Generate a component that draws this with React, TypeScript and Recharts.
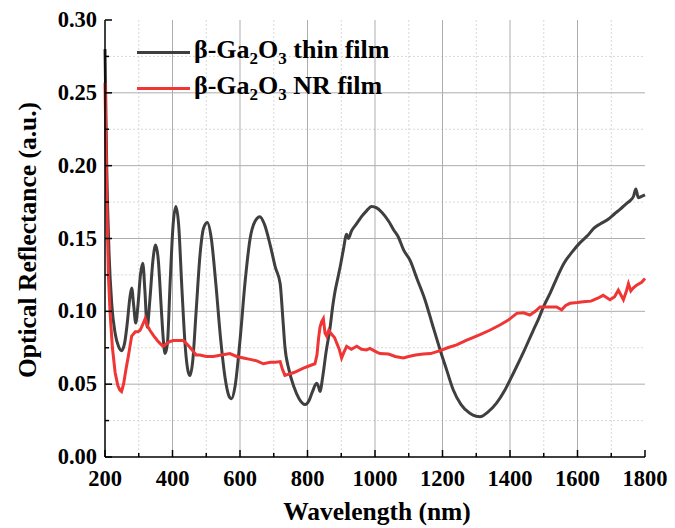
import React from 'react';
import {
  LineChart,
  Line,
  XAxis,
  YAxis,
  CartesianGrid,
  Legend,
} from 'recharts';

// wavelength (nm) and reflectance
const thinFilmNm = [
  200, 205, 212, 220, 230, 240, 249, 258, 266, 273, 279, 285, 291, 298, 305, 312, 318, 325,
  333, 342, 350, 358, 366, 373, 378, 385, 393, 402, 410, 418, 428, 438, 446, 452, 460, 470,
  482, 492, 503, 515, 528, 543, 556, 567, 575, 585, 600, 615, 630, 645, 659, 672, 690, 705,
  719, 727, 733, 745, 760, 775, 793, 805, 815, 827, 833, 837, 845, 855, 867, 875, 881, 890,
  898, 906, 916, 921, 930, 945, 960, 975, 990, 1005, 1020, 1040, 1055, 1069, 1085, 1104,
  1125, 1148, 1170, 1193, 1212, 1232, 1255, 1281, 1300, 1311, 1335, 1360, 1385, 1410, 1440,
  1469, 1485, 1499, 1520, 1538, 1560, 1585, 1607, 1630, 1648, 1667, 1690, 1710, 1726, 1745,
  1756, 1766, 1773, 1780, 1790, 1800,
];
const thinFilmR = [
  0.28, 0.2, 0.14, 0.105, 0.085, 0.076, 0.073, 0.078, 0.092, 0.108, 0.116, 0.104, 0.092,
  0.105, 0.125, 0.133, 0.115, 0.089, 0.108, 0.135, 0.1455, 0.135, 0.105, 0.08, 0.071, 0.078,
  0.12, 0.16, 0.172, 0.16, 0.115, 0.075, 0.059, 0.056, 0.066, 0.1, 0.14, 0.157, 0.161, 0.15,
  0.12, 0.08, 0.054, 0.042, 0.04, 0.048, 0.08, 0.12, 0.15, 0.162, 0.165, 0.16, 0.145, 0.13,
  0.119, 0.095, 0.076, 0.06, 0.048, 0.04, 0.036, 0.039, 0.045, 0.0506, 0.048, 0.045, 0.055,
  0.072, 0.089, 0.104, 0.113, 0.123, 0.132, 0.142, 0.153, 0.15, 0.155, 0.16, 0.165, 0.169,
  0.172, 0.171, 0.168, 0.162, 0.156, 0.151, 0.142, 0.135, 0.122, 0.108, 0.091, 0.0735, 0.06,
  0.046, 0.036, 0.03, 0.028, 0.0277, 0.031, 0.037, 0.046, 0.0575, 0.072, 0.087, 0.095, 0.103,
  0.113, 0.1225, 0.133, 0.141, 0.147, 0.152, 0.157, 0.16, 0.163, 0.167, 0.17, 0.174, 0.176,
  0.179, 0.184, 0.178, 0.179, 0.18,
];

const nrFilmNm = [
  200, 205, 210, 215, 222, 230, 238, 244, 249, 255, 262, 269, 279, 290, 298, 304, 312, 319,
  326, 333, 345, 355, 363, 372, 378, 390, 402, 418, 432, 445, 460, 470, 481, 500, 521, 545,
  570, 590, 610, 630, 650, 669, 690, 705, 719, 726, 733, 760, 788, 810, 822, 828, 833, 837,
  842, 847, 852, 857, 863, 872, 880, 887, 894, 901, 908, 916, 930, 946, 960, 975, 985, 1005,
  1015, 1040, 1060, 1084, 1100, 1120, 1143, 1165, 1193, 1215, 1242, 1270, 1290, 1311, 1340,
  1370, 1395, 1420, 1440, 1459, 1475, 1489, 1510, 1538, 1553, 1565, 1578, 1600, 1617, 1640,
  1660, 1676, 1696, 1710, 1721, 1736, 1745, 1751, 1758, 1765, 1775, 1790, 1800,
];
const nrFilmR = [
  0.257, 0.18, 0.125, 0.099, 0.075, 0.058, 0.049, 0.046, 0.045, 0.05, 0.06, 0.069, 0.083,
  0.086, 0.086, 0.087, 0.091, 0.095, 0.09, 0.087, 0.083, 0.08, 0.078, 0.076, 0.077, 0.079,
  0.08, 0.08, 0.08, 0.077, 0.073, 0.07, 0.07, 0.069, 0.069, 0.07, 0.071, 0.069, 0.068, 0.067,
  0.066, 0.064, 0.065, 0.065, 0.0655, 0.06, 0.056, 0.058, 0.061, 0.063, 0.064, 0.07, 0.082,
  0.089, 0.093, 0.095, 0.085, 0.083, 0.087, 0.084, 0.082, 0.078, 0.074, 0.068, 0.072, 0.076,
  0.074, 0.076, 0.074, 0.0735, 0.0746, 0.072, 0.071, 0.0707, 0.069, 0.068, 0.069, 0.07,
  0.0707, 0.071, 0.073, 0.075, 0.077, 0.08, 0.082, 0.084, 0.087, 0.0906, 0.094, 0.0986,
  0.099, 0.0975, 0.1, 0.103, 0.103, 0.103, 0.101, 0.104, 0.1055, 0.106, 0.1066, 0.107, 0.109,
  0.111, 0.108, 0.11, 0.1146, 0.108, 0.114, 0.119, 0.114, 0.116, 0.118, 0.12, 0.1225,
];

const xTicks = [200, 300, 400, 500, 600, 700, 800, 900, 1000, 1100, 1200, 1300, 1400, 1500, 1600, 1700, 1800];
const yTicks = [0, 0.025, 0.05, 0.075, 0.1, 0.125, 0.15, 0.175, 0.2, 0.225, 0.25, 0.275, 0.3];
const xMajor = [400, 600, 800, 1000, 1200, 1400, 1600];
const xMinor = [300, 500, 700, 900, 1100, 1300, 1500, 1700];
const yMajor = [0.05, 0.1, 0.15, 0.2, 0.25];
const yMinor = [0.025, 0.075, 0.125, 0.175, 0.225, 0.275];

const thinFilm = thinFilmNm.map((nm, i) => ({ nm, r: thinFilmR[i] }));
const nrFilm = nrFilmNm.map((nm, i) => ({ nm, r: nrFilmR[i] }));

const FONT = '"Liberation Serif", "Times New Roman", serif';
const DARK = '#3f3f3f';
const RED = '#f03535';

const XTick = (props: any) => {
  const { x, y, payload } = props;
  const major = payload.value % 200 === 0;
  return (
    <g>
      <line x1={x} x2={x} y1={y} y2={y - (major ? 7 : 4)} stroke="#000" strokeWidth={1.5} />
      {major && (
        <text x={x} y={y + 29} textAnchor="middle" fontFamily={FONT} fontWeight="bold" fontSize={22.5} fill="#000">
          {payload.value}
        </text>
      )}
    </g>
  );
};

const YTick = (props: any) => {
  const { x, y, payload } = props;
  const major = Math.round(payload.value * 1000) % 50 === 0;
  return (
    <g>
      <line x1={x} x2={x + (major ? 7 : 4)} y1={y} y2={y} stroke="#000" strokeWidth={1.5} />
      {major && (
        <text x={x - 8} y={y + 7} textAnchor="end" fontFamily={FONT} fontWeight="bold" fontSize={22.5} fill="#000">
          {payload.value.toFixed(2)}
        </text>
      )}
    </g>
  );
};

const GaLabel = ({ rest }: { rest: string }) => (
  <span>
    β-Ga<sub style={{ fontSize: 17 }}>2</sub>O<sub style={{ fontSize: 17 }}>3</sub> {rest}
  </span>
);

const LegendBox = () => (
  <div style={{ fontFamily: FONT, fontWeight: 'bold', fontSize: 26, color: '#000' }}>
    {[
      { color: DARK, rest: 'thin film' },
      { color: RED, rest: 'NR film' },
    ].map((it) => (
      <div key={it.rest} style={{ position: 'relative', height: 36, lineHeight: '26px' }}>
        <span style={{ position: 'absolute', left: 0, top: 16, width: 53, height: 3, background: it.color }} />
        <span style={{ position: 'absolute', left: 57, top: 2, whiteSpace: 'nowrap' }}>
          <GaLabel rest={it.rest} />
        </span>
      </div>
    ))}
  </div>
);

export default function App() {
  return (
    <div style={{ position: 'absolute', left: 0, top: 0, width: 675, height: 528, background: '#fff' }}>
      <LineChart width={675} height={528} margin={{ top: 20, right: 30, left: 0, bottom: 0 }}>
        <CartesianGrid horizontalValues={yMinor} verticalValues={xMinor} stroke="#d8d8d8" strokeDasharray="2 2" />
        <CartesianGrid horizontalValues={yMajor} verticalValues={xMajor} stroke="#adadad" />
        <XAxis
          dataKey="nm"
          type="number"
          domain={[200, 1800]}
          ticks={xTicks}
          allowDuplicatedCategory={false}
          height={71}
          tickSize={0}
          tickMargin={0}
          tickLine={false}
          axisLine={{ stroke: '#000', strokeWidth: 1.5 }}
          tick={<XTick />}
          interval={0}
        />
        <XAxis xAxisId="top" orientation="top" type="number" domain={[200, 1800]} height={0} tick={false} tickLine={false} axisLine={{ stroke: '#000', strokeWidth: 1.5 }} />
        <YAxis
          type="number"
          domain={[0, 0.3]}
          ticks={yTicks}
          width={105}
          tickSize={0}
          tickMargin={0}
          tickLine={false}
          axisLine={{ stroke: '#000', strokeWidth: 1.5 }}
          tick={<YTick />}
          interval={0}
        />
        <YAxis yAxisId="right" orientation="right" type="number" domain={[0, 0.3]} width={0} tick={false} tickLine={false} axisLine={{ stroke: '#000', strokeWidth: 1.5 }} />
        <Legend
          layout="vertical"
          align="center"
          verticalAlign="middle"
          wrapperStyle={{ top: 35, left: 137, width: 320 }}
          content={<LegendBox />}
        />
        <Line data={thinFilm} dataKey="r" name="thin film" type="monotone" stroke={DARK} strokeWidth={3} dot={false} isAnimationActive={false} />
        <Line data={nrFilm} dataKey="r" name="NR film" type="linear" stroke={RED} strokeWidth={3} dot={false} isAnimationActive={false} />
        <text x={377} y={520} textAnchor="middle" fontFamily={FONT} fontWeight="bold" fontSize={25.5} fill="#000">
          Wavelength (nm)
        </text>
        <text
          x={27}
          y={240}
          transform="rotate(-90 27 240)"
          textAnchor="middle"
          dominantBaseline="central"
          fontFamily={FONT}
          fontWeight="bold"
          fontSize={25.5}
          fill="#000"
        >
          Optical Reflectance (a.u.)
        </text>
      </LineChart>
    </div>
  );
}
